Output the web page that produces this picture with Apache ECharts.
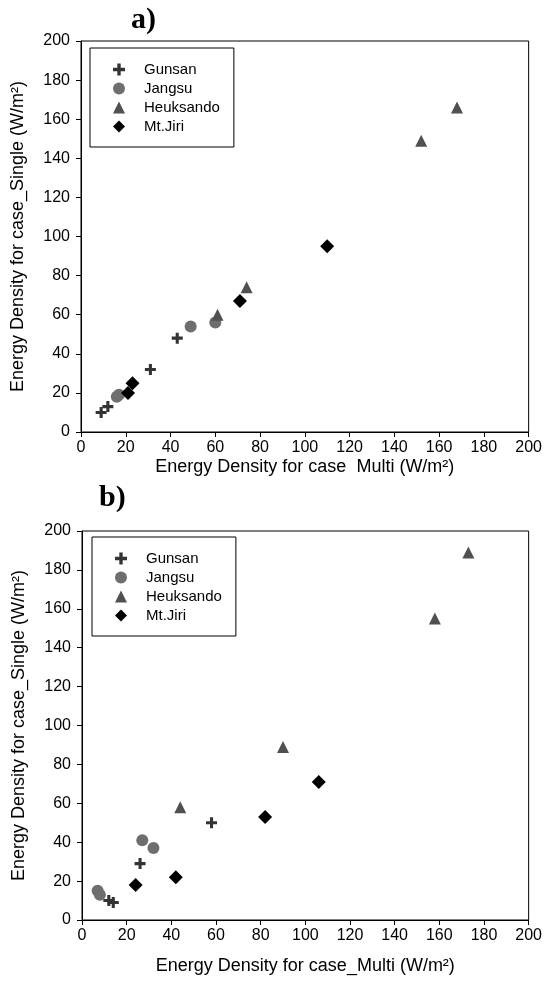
<!DOCTYPE html>
<html>
<head>
<meta charset="utf-8">
<script src="https://cdn.jsdelivr.net/npm/echarts@6/dist/echarts.min.js"></script>
<style>html,body{margin:0;padding:0;background:#fff;}#c{width:545px;height:991px;}</style>
</head>
<body>
<div id="c"></div>
<script>
// Station names
var stations = ['Gunsan', 'Jangsu', 'Heuksando', 'Mt.Jiri'];
// Axis ticks
var axisMin = 0, axisMax = 200, axisStep = 20;

// Panel a) [Multi, Single]
var aGunsan    = [[9, 10], [12, 13], [31, 32], [43, 48]];
var aJangsu    = [[16, 18], [17, 19], [49, 54], [60, 56]];
var aHeuksando = [[61, 60], [74, 74], [152, 149], [168, 166]];
var aMtJiri    = [[21, 20], [23, 25], [71, 67], [110, 95]];

// Panel b) [Multi, Single]
var bGunsan    = [[12, 10], [14, 9], [26, 29], [58, 50]];
var bJangsu    = [[7, 15], [8, 13], [27, 41], [32, 37]];
var bHeuksando = [[44, 58], [90, 89], [158, 155], [173, 189]];
var bMtJiri    = [[24, 18], [42, 22], [82, 53], [106, 71]];

var plusPath = 'path://M3.6,0H6.4V3.6H10V6.4H6.4V10H3.6V6.4H0V3.6H3.6Z';
var styles = {
  'Gunsan':    {symbol: plusPath, size: 11, color: '#333'},
  'Jangsu':    {symbol: 'circle', size: 12, color: '#6e6e6e'},
  'Heuksando': {symbol: 'triangle', size: 12, color: '#505050'},
  'Mt.Jiri':   {symbol: 'diamond', size: 14, color: '#000'}
};
var FONT = 'Liberation Sans, Arial, sans-serif';

function mkSeries(name, data, idx) {
  var s = styles[name];
  return {
    type: 'scatter', name: name, data: data,
    xAxisIndex: idx, yAxisIndex: idx,
    symbol: s.symbol, symbolSize: s.size,
    itemStyle: {color: s.color, opacity: 1},
    emphasis: {disabled: true}
  };
}
function mkX(idx, name, gap) {
  return {
    type: 'value', gridIndex: idx, min: axisMin, max: axisMax, interval: axisStep,
    name: name, nameLocation: 'middle', nameGap: gap,
    nameTextStyle: {fontFamily: FONT, fontSize: 18, color: '#000'},
    axisLine: {show: true, lineStyle: {color: '#000', width: 1}},
    axisTick: {show: true, inside: false, length: 5, lineStyle: {color: '#000'}},
    axisLabel: {fontFamily: FONT, fontSize: 16, color: '#000', margin: 8},
    splitLine: {show: false}
  };
}
function mkY(idx) {
  return {
    type: 'value', gridIndex: idx, min: axisMin, max: axisMax, interval: axisStep,
    name: 'Energy Density for case_Single (W/m²)', nameLocation: 'middle', nameGap: 54,
    nameTextStyle: {fontFamily: FONT, fontSize: 18, color: '#000'},
    axisLine: {show: true, lineStyle: {color: '#000', width: 1}},
    axisTick: {show: true, inside: false, length: 5, lineStyle: {color: '#000'}},
    axisLabel: {fontFamily: FONT, fontSize: 16, color: '#000', margin: 11},
    splitLine: {show: false}
  };
}
function mkLegend(left, top) {
  return {
    orient: 'vertical', left: left, top: top,
    data: stations,
    padding: [14, 14, 13, 23], itemGap: 4,
    itemWidth: 12, itemHeight: 12,
    borderColor: '#000', borderWidth: 1, backgroundColor: '#fff',
    selectedMode: false,
    textStyle: {fontFamily: FONT, fontSize: 15, color: '#000', padding: [0, 0, 0, 14]}
  };
}

var chart = echarts.init(document.getElementById('c'), null, {renderer: 'canvas'});
chart.setOption({
  animation: false,
  backgroundColor: '#fff',
  title: [
    {text: 'a)', left: 126, top: 0, textStyle: {fontFamily: 'Liberation Serif, Times New Roman, serif', fontWeight: 'bold', fontSize: 30, color: '#000'}},
    {text: 'b)', left: 94, top: 478, textStyle: {fontFamily: 'Liberation Serif, Times New Roman, serif', fontWeight: 'bold', fontSize: 30, color: '#000'}}
  ],
  grid: [
    {left: 81, right: 15, top: 41, height: 391, show: true, borderColor: '#000', borderWidth: 1, backgroundColor: 'transparent'},
    {left: 82, right: 13, top: 531, height: 389, show: true, borderColor: '#000', borderWidth: 1, backgroundColor: 'transparent'}
  ],
  xAxis: [
    mkX(0, 'Energy Density for case  Multi (W/m²)', 26),
    mkX(1, 'Energy Density for case_Multi (W/m²)', 37)
  ],
  yAxis: [mkY(0), mkY(1)],
  legend: [mkLegend(90, 48), mkLegend(92, 537)],
  series: [
    mkSeries('Gunsan', aGunsan, 0),
    mkSeries('Jangsu', aJangsu, 0),
    mkSeries('Heuksando', aHeuksando, 0),
    mkSeries('Mt.Jiri', aMtJiri, 0),
    mkSeries('Gunsan', bGunsan, 1),
    mkSeries('Jangsu', bJangsu, 1),
    mkSeries('Heuksando', bHeuksando, 1),
    mkSeries('Mt.Jiri', bMtJiri, 1)
  ]
});
</script>
</body>
</html>
